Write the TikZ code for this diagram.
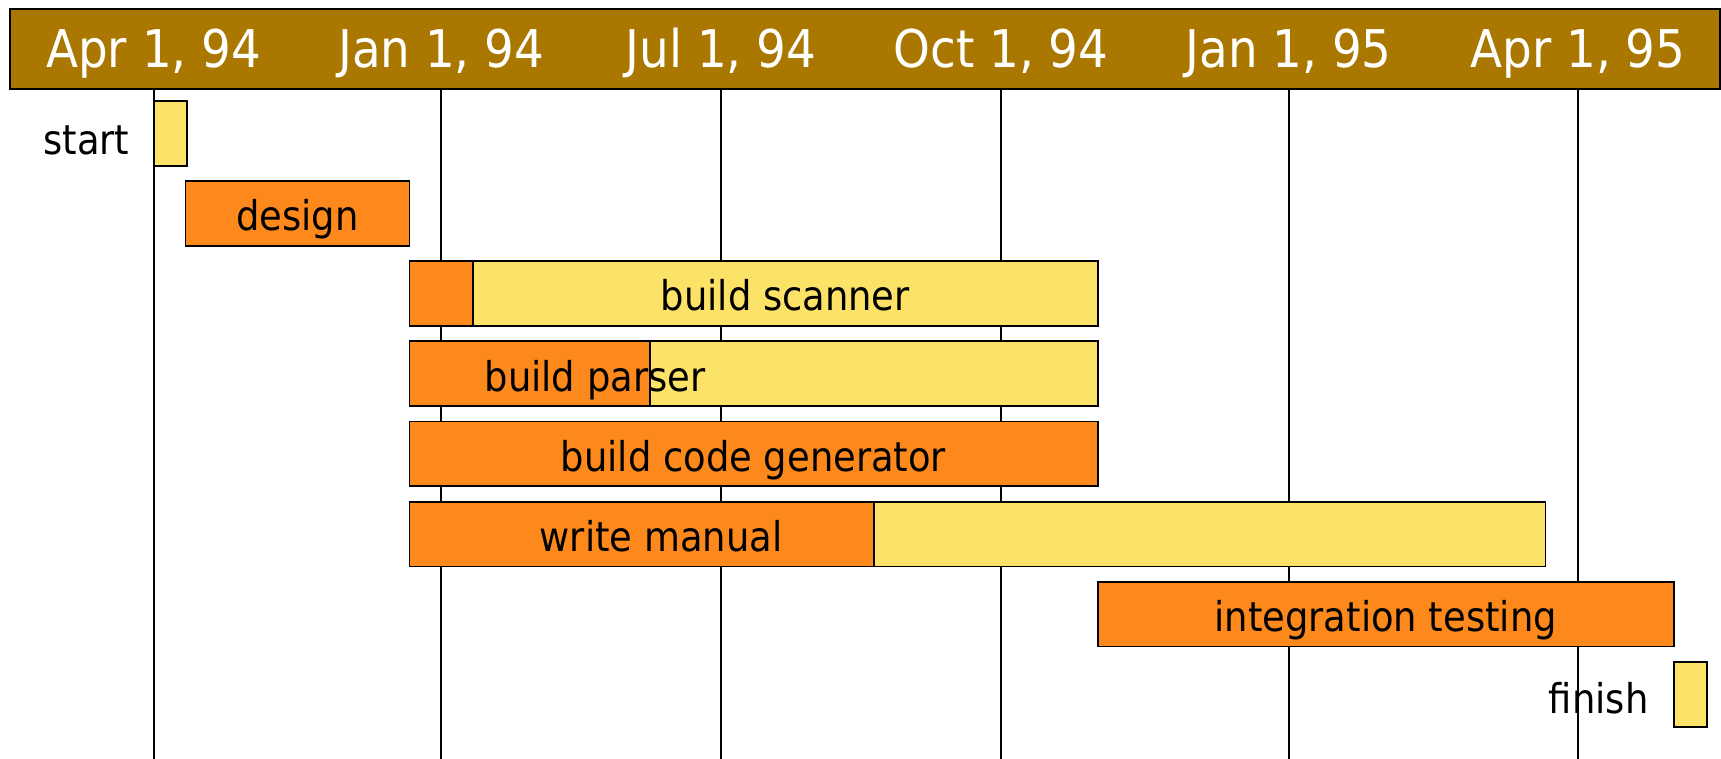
\documentclass[tikz,border=0pt]{standalone}
\usepackage{fontspec}
\setmainfont{DejaVu Sans Condensed}
\definecolor{hdr}{RGB}{170,120,0}
\definecolor{org}{RGB}{253,137,29}
\definecolor{ylw}{RGB}{252,226,102}
\begin{document}
\begin{tikzpicture}[x=1pt,y=-1pt,
  seg/.style={draw=black, line width=1.8pt, minimum height=64.8pt, inner sep=0pt, outer sep=0pt, anchor=north west},
  grid/.style={draw=black, line width=1.8pt},
  hlbl/.style={text=white, font=\fontsize{52}{60}\selectfont, anchor=base, inner sep=0pt},
  lbl/.style={text=black, font=\fontsize{41}{49}\selectfont, anchor=base, inner sep=0pt}]
\useasboundingbox (0,0) rectangle (1721,759);
% header bar
\node[draw=black, line width=1.8pt, fill=hdr, minimum width=1710pt, minimum height=80pt, inner sep=0pt, anchor=north west] (header) at (9,8) {};
% grid lines
\foreach \n/\x in {g1/153.7, g2/441.2, g3/721.1, g4/1001, g5/1288.6, g6/1578}{
  \coordinate (\n t) at (\x,88);
  \coordinate (\n b) at (\x,759);
  \draw[grid] (\n t) -- (\n b);
}
% header labels
\node[hlbl] (h1) at (153.7,68) {Apr 1, 94};
\node[hlbl] (h2) at (441.2,68) {Jan 1, 94};
\node[hlbl] (h3) at (721.1,68) {Jul 1, 94};
\node[hlbl] (h4) at (1001,68) {Oct 1, 94};
\node[hlbl] (h5) at (1288.6,68) {Jan 1, 95};
\node[hlbl] (h6) at (1578,68) {Apr 1, 95};
% start
\node[seg, fill=ylw, minimum width=33pt] (start) at (153.7,101) {};
\node[lbl, anchor=base east] (startl) at (129.5,155) {start};
% design
\node[seg, fill=org, minimum width=224pt] (design) at (185.5,181) {};
\node[lbl] (designl) at (297.5,231) {design};
% build scanner
\node[seg, fill=ylw, minimum width=624.6pt] (scany) at (473,261.2) {};
\node[seg, fill=org, minimum width=63.6pt] (scano) at (409.4,261.2) {};
\node[lbl] (scanl) at (785.3,311) {build scanner};
% build parser
\node[seg, fill=ylw, minimum width=447.8pt] (pary) at (649.8,341.3) {};
\node[seg, fill=org, minimum width=240.4pt] (paro) at (409.4,341.3) {};
\node[lbl] (parl) at (595,391.2) {build parser};
% build code generator
\node[seg, fill=org, minimum width=688.2pt] (codeo) at (409.4,421.5) {};
\node[lbl] (codel) at (753.5,471) {build code generator};
% write manual
\node[seg, fill=ylw, minimum width=800.4pt] (many) at (745,501.6) {};
\node[seg, fill=org, minimum width=464.3pt] (mano) at (409.4,501.6) {};
\node[lbl] (manl) at (661,551.5) {write manual};
% integration testing
\node[seg, fill=org, minimum width=576.2pt] (integ) at (1097.6,581.7) {};
\node[lbl] (integl) at (1385.7,631.5) {integration testing};
% finish
\node[seg, fill=ylw, minimum width=33pt] (finish) at (1673.8,661.8) {};
\node[lbl, anchor=base east] (finishl) at (1648.6,713) {finish};
\end{tikzpicture}
\end{document}
